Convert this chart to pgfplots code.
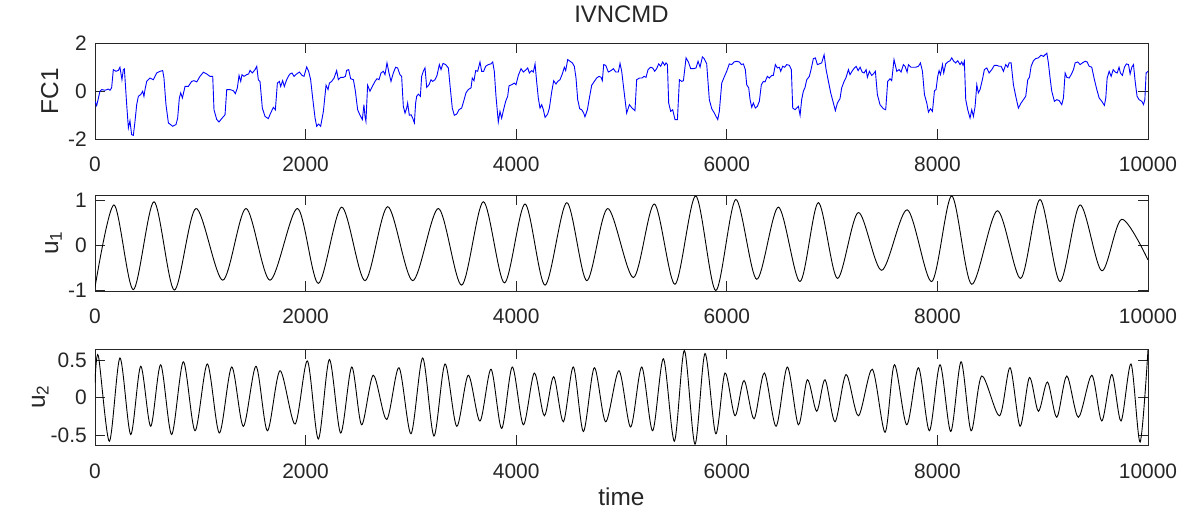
\documentclass[border=0pt]{standalone}
\usepackage{fontspec}
\setmainfont{Liberation Sans}
\usepackage{pgfplots}
\pgfplotsset{compat=1.18}
\definecolor{axgray}{RGB}{38,38,38}
\pgfplotsset{
 myax/.style={
  scale only axis, width=1053bp, height=96bp,
  xmin=0, xmax=10000,
  xtick={0,2000,4000,6000,8000,10000},
  xticklabels={0,2000,4000,6000,8000,10000},
  tick align=inside, tick pos=both,
  major tick length=10bp,
  axis line style={axgray, line width=0.8bp},
  every tick/.style={axgray, line width=0.8bp},
  tick label style={font=\fontsize{21}{24}\selectfont, text=axgray},
  xticklabel style={anchor=base, inner sep=0pt, yshift=-33bp},
  yticklabel style={anchor=east, inner sep=0pt, xshift=-8bp},
  label style={font=\fontsize{24.5}{28}\selectfont, text=axgray},
  ylabel style={at={(axis description cs:-0.035,0.5)}, anchor=base, rotate=0, inner sep=0pt},
  scaled ticks=false,
 }
}
\begin{document}
\begin{tikzpicture}
\path[use as bounding box] (0,0) rectangle (1188bp,515bp);
% ---------- FC1 ----------
\begin{axis}[myax, at={(95bp,376bp)}, anchor=south west,
  ymin=-2, ymax=2, ytick={-2,0,2}, yticklabels={-2,0,2},
  ylabel={FC1},
  title={IVNCMD},
  title style={font=\fontsize{24}{28}\selectfont, text=axgray, at={(axis description cs:0.5,1)}, anchor=base, yshift=15bp, inner sep=0pt}]
\addplot[blue, line width=0.9bp] coordinates {
(0,-0.43) (16,-0.61) (47,-0.01) (63,0.06) (95,0.03) (127,0.08) (142,0.03) (158,0.13) (174,0.89) (199,0.82) (222,0.86) (237,0.99) (256,0.47) (269,0.89) (279,0.92) (301,-0.57) (317,-1.54) (332,-1.24) (348,-1.82) (364,-1.85) (380,-1.26) (396,-0.57) (412,-0.22) (434,-0.15) (453,-0.01) (465,-0.22) (475,0.06) (491,0.40) (522,0.54) (554,0.47) (586,0.75) (617,0.82) (643,0.85) (655,0.54) (674,-0.57) (697,-1.33) (738,-1.47) (769,-1.40) (785,-1.13) (801,-0.29) (814,-0.08) (830,-0.29) (855,0.19) (886,0.19) (918,0.40) (940,0.43) (966,0.38) (997,0.61) (1029,0.78) (1061,0.71) (1092,0.61) (1118,0.61) (1130,-0.78) (1156,-1.19) (1178,-1.29) (1203,-1.15) (1235,-0.99) (1251,0.06) (1282,0.06) (1314,0.01) (1333,-0.11) (1352,0.13) (1368,0.65) (1384,0.40) (1396,0.68) (1415,0.61) (1440,0.68) (1459,0.71) (1472,0.86) (1494,0.75) (1520,0.89) (1536,1.03) (1551,0.47) (1567,0.40) (1589,-0.71) (1615,-1.06) (1646,-1.15) (1668,-0.92) (1694,-0.68) (1713,-0.78) (1732,0.33) (1751,0.40) (1763,0.19) (1782,0.43) (1798,0.19) (1820,0.47) (1836,0.61) (1852,0.71) (1871,0.75) (1890,0.61) (1915,0.71) (1941,0.79) (1966,0.65) (1985,0.61) (2010,1.00) (2029,0.82) (2048,0.47) (2067,-0.29) (2090,-1.13) (2105,-1.47) (2124,-1.38) (2143,-1.47) (2169,-0.85) (2194,0.24) (2213,0.06) (2226,0.33) (2248,0.40) (2270,0.54) (2295,0.85) (2311,0.47) (2333,0.57) (2359,0.57) (2378,0.61) (2390,0.86) (2409,0.89) (2428,0.51) (2454,0.47) (2473,-0.01) (2494,-0.78) (2517,-1.01) (2539,-1.19) (2554,-0.57) (2564,-1.06) (2573,-1.26)
(2589,0.24) (2611,-0.01) (2634,0.19) (2659,0.40) (2678,0.51) (2697,0.47) (2716,0.75) (2738,0.82) (2754,0.68) (2773,1.17) (2792,0.75) (2811,0.40) (2833,0.75) (2855,0.99) (2874,0.96) (2896,0.68) (2912,0.61) (2928,-0.64) (2944,-0.92) (2960,-0.71) (2969,-0.50) (2985,-1.01) (3001,-0.99) (3017,-1.13) (3033,-1.33) (3045,-0.50) (3055,-0.22) (3071,-0.13) (3090,-0.22) (3102,0.61) (3118,0.82) (3134,0.96) (3150,0.15) (3172,0.26) (3191,0.47) (3207,0.40) (3229,0.47) (3248,0.65) (3270,1.10) (3286,0.89) (3305,1.15) (3330,1.10) (3356,0.96) (3371,0.26) (3393,-0.71) (3412,-1.01) (3435,-0.96) (3457,-0.78) (3482,-0.71) (3501,-0.43) (3523,-0.08) (3545,0.06) (3571,0.13) (3583,0.54) (3599,0.43) (3615,0.85) (3634,0.82) (3656,1.21) (3672,0.82) (3691,0.82) (3710,1.03) (3735,1.10) (3761,1.13) (3777,1.21) (3792,0.82) (3808,-0.22) (3830,-1.29) (3846,-0.85) (3862,-1.13) (3878,-0.82) (3900,-0.43) (3919,-0.22) (3932,0.22) (3957,0.26) (3982,0.33) (3998,0.26) (4020,0.65) (4046,0.93) (4068,0.79) (4084,0.85) (4109,0.96) (4125,0.75) (4147,0.85) (4163,0.79) (4179,1.13) (4194,0.40) (4210,-0.29) (4226,-0.71) (4242,-0.57) (4258,-0.78) (4274,-1.10) (4299,-0.96) (4315,-0.71) (4337,-0.04) (4356,0.43) (4378,0.29) (4394,0.40) (4416,0.47) (4438,0.71) (4457,0.99) (4470,0.85) (4489,1.31) (4511,1.24) (4533,1.17) (4552,1.03) (4568,0.54) (4584,-0.36) (4603,-0.74) (4622,-0.78) (4641,-0.92) (4653,-1.08) (4676,-0.78) (4695,-0.29) (4717,0.24) (4742,0.40) (4764,0.54) (4787,0.61) (4806,0.57) (4818,0.43) (4831,1.10) (4850,1.07) (4875,0.79) (4900,0.85) (4923,0.93) (4945,0.79) (4970,0.79) (4986,1.15)
(5002,0.82) (5024,-0.01) (5049,-0.92) (5075,-0.57) (5100,-0.71) (5128,-0.82) (5144,0.47) (5170,0.54) (5195,0.54) (5214,0.61) (5233,0.57) (5252,0.89) (5277,0.99) (5296,0.96) (5315,0.82) (5334,0.93) (5353,1.13) (5372,1.03) (5391,1.21) (5410,1.07) (5423,1.17) (5436,1.10) (5448,-0.50) (5467,-0.85) (5486,-0.78) (5508,-1.19) (5531,-1.19) (5550,0.47) (5572,0.40) (5588,0.43) (5613,1.38) (5635,1.21) (5657,0.93) (5683,0.93) (5708,0.96) (5727,1.24) (5746,0.99) (5768,1.42) (5784,1.35) (5809,1.13) (5834,-0.36) (5857,-0.74) (5882,-0.92) (5898,-1.06) (5914,-1.19) (5929,-0.85) (5952,0.33) (5974,0.57) (5999,0.82) (6024,1.13) (6047,1.10) (6069,1.21) (6094,1.24) (6119,1.21) (6138,1.10) (6157,1.13) (6176,0.89) (6189,0.26) (6208,0.13) (6221,-0.36) (6237,-0.68) (6252,-0.50) (6271,-0.71) (6290,-0.64) (6309,-0.43) (6328,0.26) (6347,0.40) (6363,0.38) (6385,0.61) (6404,0.54) (6427,0.65) (6442,0.65) (6461,1.10) (6480,0.96) (6499,0.99) (6512,0.82) (6531,1.03) (6550,0.99) (6569,1.10) (6594,1.07) (6613,0.89) (6626,-0.71) (6648,-0.78) (6664,-0.71) (6680,-0.64) (6696,-1.01) (6711,-0.36) (6727,-0.01) (6743,0.15) (6759,0.47) (6784,0.61) (6800,0.89) (6822,1.35) (6841,1.38) (6860,1.10) (6879,1.13) (6901,1.17) (6924,1.51) (6943,0.89) (6965,0.40) (6987,-0.08) (7012,-0.50) (7031,-0.82) (7050,-0.50) (7075,-0.32) (7091,0.13) (7114,0.40) (7133,0.57) (7155,0.89) (7170,0.68) (7193,0.85) (7212,0.96) (7228,1.03) (7247,0.85) (7266,0.99) (7285,0.79) (7304,0.75) (7323,0.89) (7335,0.57) (7354,0.82) (7376,0.65) (7392,0.71) (7411,0.82) (7430,-0.15) (7455,-0.57) (7487,-0.74) (7509,-0.78)
(7528,0.40) (7550,0.51) (7566,0.43) (7588,1.31) (7614,0.82) (7636,0.89) (7655,0.79) (7677,1.10) (7693,1.03) (7712,0.79) (7725,1.10) (7750,0.99) (7772,0.99) (7794,0.99) (7820,1.03) (7839,1.17) (7858,0.82) (7877,-0.15) (7899,-0.50) (7915,-0.88) (7934,-0.74) (7953,-0.85) (7972,0.01) (7987,0.06) (8003,0.61) (8016,0.85) (8029,0.68) (8048,1.10) (8060,0.75) (8079,1.13) (8098,1.21) (8120,1.26) (8136,1.38) (8155,1.24) (8174,1.17) (8193,1.26) (8215,1.10) (8231,1.21) (8244,1.07) (8256,1.24) (8269,-0.36) (8288,-0.78) (8310,-1.13) (8326,-0.78) (8342,-1.06) (8358,-0.64) (8374,0.26) (8389,-0.08) (8405,0.06) (8427,0.47) (8446,0.89) (8469,0.96) (8491,0.75) (8516,0.89) (8541,1.07) (8564,1.07) (8586,1.03) (8605,1.03) (8627,0.82) (8649,1.10) (8668,0.99) (8681,1.17) (8700,1.17) (8722,0.26) (8744,-0.22) (8769,-0.71) (8795,-0.50) (8817,-0.36) (8839,-0.22) (8858,0.47) (8874,0.57) (8890,1.03) (8912,1.26) (8934,1.35) (8959,1.38) (8985,1.49) (9007,1.44) (9023,1.51) (9039,1.58) (9054,1.17) (9070,0.54) (9086,-0.01) (9111,-0.43) (9134,-0.36) (9156,-0.40) (9181,-0.57) (9197,-0.29) (9213,0.75) (9229,0.57) (9251,0.54) (9270,0.68) (9292,0.89) (9308,1.17) (9333,1.21) (9355,1.10) (9377,1.17) (9403,1.24) (9422,1.21) (9441,1.03) (9466,0.99) (9491,0.47) (9514,0.06) (9536,-0.29) (9561,-0.43) (9586,-0.60) (9599,-0.29) (9612,0.54) (9631,0.82) (9650,0.61) (9669,0.89) (9688,0.79) (9707,0.75) (9725,0.99) (9738,0.75) (9757,0.65) (9776,0.99) (9795,1.13) (9815,1.10) (9830,0.71) (9846,0.99) (9862,1.10) (9878,0.40) (9896,-0.22) (9915,-0.36) (9941,-0.43) (9957,-0.57) (9970,-0.36) (9982,0.75) (10000,0.82)
};
\end{axis}
% ---------- u1 ----------
\begin{axis}[myax, at={(95bp,224bp)}, anchor=south west,
  ymin=-1.02, ymax=1.11, ytick={-1,0,1}, yticklabels={-1,0,1},
  ylabel={u\textsubscript{1}}]
\addplot[black, line width=0.9bp, smooth] coordinates {
(0,-0.94) (180,0.89) (364,-0.99) (560,0.96) (753,-1.0) (959,0.81) (1213,-0.78) (1434,0.81) (1662,-0.78) (1922,0.81) (2121,-0.85) (2343,0.84) (2564,-0.79) (2780,0.85) (3017,-0.79) (3261,0.81) (3482,-0.89) (3688,0.96) (3888,-0.84) (4084,0.91) (4274,-0.89) (4480,0.94) (4670,-0.79) (4869,0.81) (5113,-0.72) (5312,0.91) (5508,-0.87) (5705,1.09) (5895,-1.01) (6085,1.01) (6284,-0.76) (6490,0.84) (6695,-0.81) (6869,0.94) (7050,-0.74) (7249,0.72) (7471,-0.56) (7714,0.78) (7946,-0.81) (8136,1.09) (8325,-0.87) (8569,0.76) (8791,-0.74) (8975,1.01) (9164,-0.81) (9354,0.89) (9560,-0.57) (9750,0.57) (10000,-0.33)
};
\end{axis}
% ---------- u2 ----------
\begin{axis}[myax, at={(95bp,70bp)}, anchor=south west,
  ymin=-0.63, ymax=0.65, ytick={-0.5,0,0.5}, yticklabels={-0.5,0,0.5},
  ylabel={u\textsubscript{2}},
  ylabel style={at={(axis description cs:-0.0475,0.5)}},
  xlabel={time},
  xlabel style={at={(axis description cs:0.5,0)}, anchor=base, yshift=-60bp, inner sep=0pt}]
\addplot[black, line width=0.9bp, smooth] coordinates {
(0,0.2) (32,0.56) (136,-0.58) (237,0.53) (339,-0.49) (434,0.42) (529,-0.38) (624,0.44) (728,-0.49) (839,0.48) (950,-0.44) (1067,0.45) (1181,-0.47) (1298,0.41) (1409,-0.38) (1529,0.42) (1637,-0.44) (1757,0.36) (1900,-0.35) (2017,0.49) (2121,-0.55) (2226,0.51) (2333,-0.47) (2438,0.41) (2532,-0.36) (2643,0.30) (2770,-0.29) (2887,0.40) (3001,-0.48) (3112,0.53) (3219,-0.51) (3324,0.45) (3435,-0.38) (3545,0.30) (3656,-0.31) (3761,0.38) (3862,-0.41) (3963,0.41) (4068,-0.36) (4172,0.33) (4267,-0.24) (4356,0.28) (4448,-0.32) (4543,0.41) (4638,-0.45) (4742,0.40) (4850,-0.32) (4976,0.36) (5087,-0.39) (5192,0.41) (5296,-0.44) (5398,0.52) (5502,-0.58) (5597,0.63) (5698,-0.62) (5793,0.59) (5895,-0.48) (5983,0.33) (6078,-0.24) (6164,0.23) (6259,-0.28) (6357,0.33) (6468,-0.38) (6575,0.41) (6680,-0.36) (6765,0.24) (6854,-0.18) (6933,0.24) (7028,-0.32) (7133,0.31) (7250,-0.24) (7382,0.38) (7503,-0.46) (7592,0.44) (7709,-0.36) (7820,0.40) (7924,-0.44) (8025,0.44) (8127,-0.45) (8225,0.48) (8320,-0.44) (8421,0.29) (8589,-0.24) (8690,0.40) (8785,-0.38) (8874,0.27) (8959,-0.18) (9045,0.21) (9134,-0.26) (9229,0.29) (9339,-0.26) (9466,0.30) (9561,-0.31) (9656,0.31) (9744,-0.31) (9839,0.45) (9925,-0.59) (10000,0.64)
};
\end{axis}
\end{tikzpicture}
\end{document}
